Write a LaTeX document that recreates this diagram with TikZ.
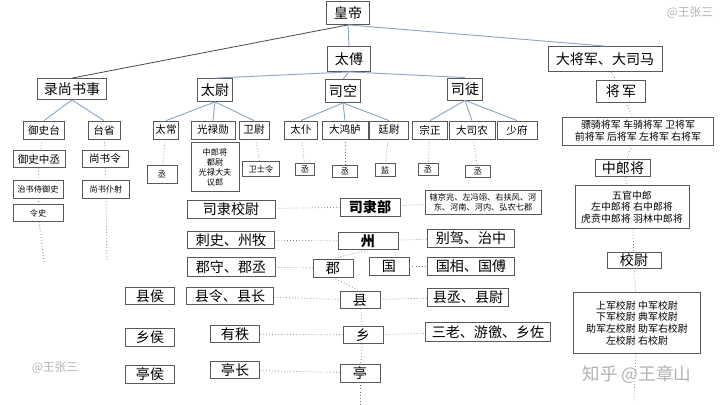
\documentclass[tikz,border=0pt]{standalone}
\usepackage{fontspec}
\setmainfont{Noto Sans CJK SC}
\definecolor{edgec}{RGB}{140,165,200}
\begin{document}
\begin{tikzpicture}[x=0.03cm,y=-0.03cm,
  box/.style={draw=black!65, line width=0.7pt, inner sep=0pt, align=center, fill=white},
  L/.style={font=\fontsize{12}{13}\selectfont},
  M/.style={font=\fontsize{9}{10}\selectfont},
  S/.style={font=\fontsize{7}{8.5}\selectfont},
  R/.style={font=\fontsize{8.5}{10}\selectfont},
  edge/.style={draw=edgec, line width=0.8pt},
  dot/.style={draw=black!55, line width=0.6pt, dotted}]
\useasboundingbox (0,0) rectangle (720,405);
\newcommand\bx[7]{\node[box,#6,minimum width=#4*0.03cm,minimum height=#5*0.03cm] (#1) at (#2,#3) {#7};}
% top
\bx{hd}{348}{13}{43}{23}{L}{皇帝}
\bx{tf}{349}{59}{43}{25}{L}{太傅}
\bx{djj}{605}{59}{114}{25}{L}{大将军、大司马}
\bx{lss}{72}{89}{69}{21}{L}{录尚书事}
\bx{tw}{215}{90}{35}{23}{L}{太尉}
\bx{sk}{343}{91}{35}{23}{L}{司空}
\bx{st}{465}{89}{35}{22}{L}{司徒}
\bx{jj}{621}{91}{49}{22}{L}{将\,军}
% level 3
\bx{yst}{44}{130}{41}{18}{M}{御史台}
\bx{ts}{104}{130}{32}{18}{M}{台省}
\bx{tc}{166}{130}{25}{18}{M}{太常}
\bx{glx}{213}{130}{44}{18}{M}{光禄勋}
\bx{ww}{254}{130}{30}{18}{M}{卫尉}
\bx{tp}{301}{130}{33}{18}{M}{太仆}
\bx{dhl}{345}{130}{46}{18}{M}{大鸿胪}
\bx{tw2}{389}{130}{39}{18}{M}{廷尉}
\bx{zz}{430}{130}{35}{18}{M}{宗正}
\bx{dsn}{472}{130}{46}{18}{M}{大司农}
\bx{sf}{517}{130}{40}{18}{M}{少府}
\bx{pq}{638}{131}{151}{28}{R}{骠骑将军 车骑将军 卫将军\\前将军 后将军 左将军 右将军}
% level 4
\bx{yszc}{39}{159}{52}{17}{M}{御史中丞}
\bx{ssl}{105}{159}{46}{17}{M}{尚书令}
\bx{zsy}{38}{189}{50}{18}{S}{治书侍御史}
\bx{ssp}{106}{189}{47}{18}{S}{尚书仆射}
\bx{ls}{38}{213}{50}{17}{S}{令史}
\bx{c1}{162}{174}{30}{18}{S}{丞}
\bx{glsub}{215}{167}{48}{49}{S}{中郎将\\都尉\\光禄大夫\\议郎}
\bx{wsl}{261}{169}{37}{15}{S}{卫士令}
\bx{c2}{305}{169}{19}{12}{S}{丞}
\bx{c3}{345}{171}{25}{12}{S}{丞}
\bx{jian}{385}{170}{20}{13}{S}{监}
\bx{c4}{428}{169}{20}{12}{S}{丞}
\bx{c5}{478}{171}{25}{12}{S}{丞}
\bx{zlj}{623}{168}{55}{17}{L}{中郎将}
\bx{wg}{632}{207}{114}{43}{R}{五官中郎\\左中郎将 右中郎将\\虎贲中郎将 羽林中郎将}
\bx{xw}{634}{260}{54}{16}{L}{校尉}
\bx{sj}{637}{323}{127}{61}{R}{上军校尉 中军校尉\\下军校尉 典军校尉\\助军左校尉 助军右校尉\\左校尉 右校尉}
% local
\bx{slxw}{231}{209}{88}{18}{L}{司隶校尉}
\bx{slb}{370}{207}{60}{18}{L}{\textbf{司隶部}}
\bx{qj}{483}{202}{116}{24}{S}{辖京兆、左冯翊、右扶风、河\\东、河南、河内、弘农七郡}
\bx{csz}{231}{240}{87}{17}{L}{刺史、州牧}
\bx{zhou}{368}{241}{60}{17}{L}{\textbf{州}}
\bx{bj}{471}{238}{87}{18}{L}{别驾、治中}
\bx{jsj}{231}{267}{88}{19}{L}{郡守、郡丞}
\bx{jun}{333}{268}{40}{18}{L}{郡}
\bx{guo}{389}{266}{40}{18}{L}{国}
\bx{gx}{471}{266}{87}{18}{L}{国相、国傅}
\bx{xh}{150}{296}{49}{17}{L}{县侯}
\bx{xlx}{230}{296}{87}{17}{L}{县令、县长}
\bx{xian}{360}{300}{40}{17}{L}{县}
\bx{xc}{468}{297}{81}{18}{L}{县丞、县尉}
\bx{xiangh}{150}{337}{49}{18}{L}{乡侯}
\bx{yz}{235}{334}{49}{17}{L}{有秩}
\bx{xiang}{363}{335}{40}{17}{L}{乡}
\bx{sl}{488}{332}{125}{19}{L}{三老、游徼、乡佐}
\bx{th}{150}{374}{49}{18}{L}{亭侯}
\bx{tz}{235}{370}{49}{17}{L}{亭长}
\bx{ting}{360}{373}{40}{18}{L}{亭}
% free ends
\coordinate (e1) at (44,262);
\coordinate (e2) at (107,262);
\coordinate (e3) at (360,404);
\coordinate (e4) at (634,400);
% solid edges
\draw[edge] (hd.south) -- (tf.north);
\draw[draw=black!70, line width=0.7pt] (hd.south) -- (lss.north);
\draw[edge] (hd.south) -- (djj.north);
\foreach \a/\b in {tf/tw,tf/sk,tf/st,lss/yst,lss/ts,tw/tc,tw/glx,tw/ww,sk/tp,sk/dhl,sk/tw2,st/zz,st/dsn,st/sf}
  \draw[edge] (\a.south) -- (\b.north);
% dotted chains
\foreach \a/\b in {yst/yszc,yszc/zsy,zsy/ls,ls/e1,ts/ssl,ssl/ssp,ssp/e2,tc/c1,glx/glsub,ww/wsl,tp/c2,dhl/c3,tw2/jian,zz/c4,dsn/c5,djj/jj,jj/pq,pq/zlj,zlj/wg,wg/xw,xw/sj,sj/e4,xian/xiang,xiang/ting,ting/e3}
  \draw[dot] (\a) -- (\b);
\foreach \a/\b in {slxw/slb,slb/qj,csz/zhou,zhou/bj,jsj/jun,guo/gx,xlx/xian,xian/xc,yz/xiang,xiang/sl,tz/ting}
  \draw[dot] (\a) -- (\b);
\draw[dot] (zhou.south) -- (jun.north);
\draw[dot] (jun.south) -- (xian.north);
% watermarks
\node[text=black!30, font=\fontsize{10}{11}\selectfont] (w1) at (690,13) {@王张三};
\node[text=black!30, font=\fontsize{10}{11}\selectfont] (w2) at (55,368) {@王张三};
\node[text=black!30, font=\fontsize{15}{16}\selectfont] (w3) at (637,375) {知乎 @王章山};
\end{tikzpicture}
\end{document}
